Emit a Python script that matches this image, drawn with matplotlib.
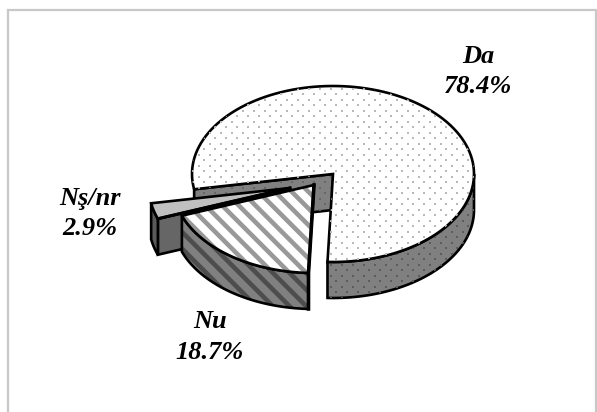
import matplotlib
matplotlib.use("Agg")
import matplotlib.pyplot as plt
from matplotlib.patches import Polygon
import numpy as np

labels = ["Da", "Nu", "Nş/nr"]
shares = [78.4, 18.7, 2.9]

# where each exploded slice has its tip, in pixels of the picture
tips = [(333, 174), (314, 185), (290, 188)]
label_xy = [(478, 71.5), (210, 337), (90, 213.5)]

RX, RY, DEPTH = 141, 88, 36
START = 260.0  # clock angle where the first slice starts
DPI = 100
LW = 1.9

plt.rcParams["hatch.linewidth"] = 3.3
fig = plt.figure(figsize=(597 / DPI, 412 / DPI), dpi=DPI)
ax = fig.add_axes([0, 0, 1, 1])
ax.set_xlim(0, 597)
ax.set_ylim(412, 0)
ax.axis("off")

# frame is open at the bottom
ax.plot([8, 8, 596, 596], [412, 10, 10, 412], color="#c8c8c8", lw=1.6, solid_joinstyle="miter")


def arc(tip, a0, a1, drop=0):
    t = np.radians(np.linspace(a0, a1, 120))
    return np.column_stack([tip[0] + RX * np.sin(t), tip[1] - RY * np.cos(t) + drop])


def dots(patch, color):
    # dotted fill of the big slice, staggered rows
    xs, ys = [], []
    for i, y in enumerate(np.arange(83, 305, 5.5)):
        for x in np.arange(160 + (i % 2) * 5.5, 490, 11):
            xs.append(x + 0.3)
            ys.append(y)
    pts = ax.scatter(xs, ys, s=3.6, marker="s", color=color, linewidths=0, zorder=patch.get_zorder())
    pts.set_clip_path(patch)


angles = np.array(shares) * 3.6
a_da0, a_da1 = START, START + angles[0]
a_nu0, a_nu1 = a_da1, a_da1 + angles[1]
a_ns0, a_ns1 = a_nu1, a_nu1 + angles[2]
tip_da, tip_nu, tip_ns = tips

# big slice: inner wall, rim, top
left = arc(tip_da, a_da0, a_da0, 0)[0]
wall = Polygon([left, tip_da, (tip_da[0], tip_da[1] + DEPTH), (left[0], left[1] + DEPTH)],
               fc="#808080", ec="black", lw=LW, zorder=2)
ax.add_patch(wall)
dots(wall, "#666666")

rim_top = arc(tip_da, 450, a_da1)
rim = Polygon(np.vstack([rim_top, arc(tip_da, a_da1, 450, DEPTH)]),
              fc="#808080", ec="black", lw=LW, zorder=2)
ax.add_patch(rim)
dots(rim, "#5c5c5c")

top = Polygon(np.vstack([[tip_da], arc(tip_da, a_da0, a_da1)]), fc="white", ec="black", lw=LW, zorder=3)
ax.add_patch(top)
dots(top, "#b8b8b8")

# thin slice
e0, e1 = arc(tip_ns, a_ns0, a_ns1)[[0, -1]]
ax.add_patch(Polygon([tip_ns, e0, e0 + (0, DEPTH), (tip_ns[0], tip_ns[1] + DEPTH)],
                     fc="#666666", ec="black", lw=LW, zorder=4))
ax.add_patch(Polygon(np.vstack([arc(tip_ns, a_ns0, a_ns1), arc(tip_ns, a_ns1, a_ns0, DEPTH)]),
                     fc="#5a5a5a", ec="black", lw=LW, zorder=4))
ax.add_patch(Polygon(np.vstack([[tip_ns], arc(tip_ns, a_ns0, a_ns1)]),
                     fc="#c0c0c0", ec="black", lw=LW, zorder=5))

# striped slice
ax.add_patch(Polygon(np.vstack([arc(tip_nu, a_nu0, a_nu1), arc(tip_nu, a_nu1, a_nu0, DEPTH)]),
                     fc="#808080", ec="#4d4d4d", hatch="\\\\", lw=0, zorder=6))
ax.add_patch(Polygon(np.vstack([arc(tip_nu, a_nu0, a_nu1), arc(tip_nu, a_nu1, a_nu0, DEPTH)]),
                     fc="none", ec="black", lw=LW, zorder=6))
ax.add_patch(Polygon(np.vstack([[tip_nu], arc(tip_nu, a_nu0, a_nu1)]),
                     fc="white", ec="#999999", hatch="\\\\", lw=0, zorder=7))
ax.add_patch(Polygon(np.vstack([[tip_nu], arc(tip_nu, a_nu0, a_nu1)]),
                     fc="none", ec="black", lw=LW, zorder=7))
# heavy edge on the right of the striped slice
b0 = arc(tip_nu, a_nu0, a_nu0)[0]
ax.plot([tip_nu[0], b0[0], b0[0]], [tip_nu[1], b0[1], b0[1] + DEPTH], color="black", lw=2.6, zorder=8)
# heavy line between the thin slice and the striped one
e1 = arc(tip_ns, a_ns0, a_ns0)[0]
ax.plot([tip_ns[0], e1[0]], [tip_ns[1], e1[1]], color="black", lw=2.2, zorder=8)

for name, val, (x, y) in zip(labels, shares, label_xy):
    ax.text(x, y, f"{name}\n{val}%", ha="center", va="center", family="Liberation Serif",
            style="italic", weight="bold", fontsize=19, linespacing=1.41, color="black", zorder=9)

fig.savefig("out.png", dpi=DPI)
